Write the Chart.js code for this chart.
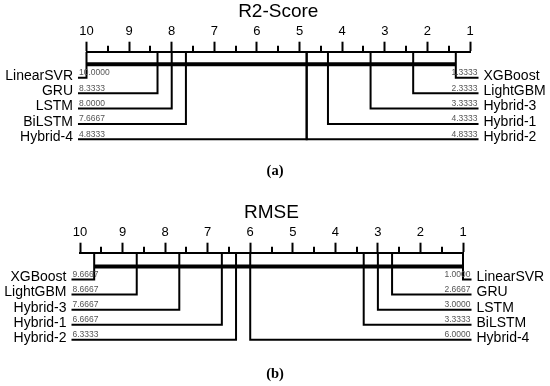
<!DOCTYPE html>
<html>
<head>
<meta charset="utf-8">
<script src="https://cdn.jsdelivr.net/npm/chart.js@4.4.0/dist/chart.umd.min.js"></script>
<style>
  html, body { margin: 0; padding: 0; background: #fff; }
  body { width: 550px; height: 386px; position: relative; overflow: hidden; }
  canvas { position: absolute; left: 0; }
  #r2 { top: 0; }
  #rmse { top: 190px; }
</style>
</head>
<body>
<canvas id="r2" width="550" height="190"></canvas>
<canvas id="rmse" width="550" height="196"></canvas>
<script>
// mean ranks, R2-Score
const r2LeftNames = ['LinearSVR', 'GRU', 'LSTM', 'BiLSTM', 'Hybrid-4'];
const r2LeftRanks = [10.0000, 8.3333, 8.0000, 7.6667, 4.8333];
const r2RightNames = ['XGBoost', 'LightGBM', 'Hybrid-3', 'Hybrid-1', 'Hybrid-2'];
const r2RightRanks = [1.3333, 2.3333, 3.3333, 4.3333, 4.8333];
const r2Clique = [10.0000, 1.3333];

// mean ranks, RMSE
const rmseLeftNames = ['XGBoost', 'LightGBM', 'Hybrid-3', 'Hybrid-1', 'Hybrid-2'];
const rmseLeftRanks = [9.6667, 8.6667, 7.6667, 6.6667, 6.3333];
const rmseRightNames = ['LinearSVR', 'GRU', 'LSTM', 'BiLSTM', 'Hybrid-4'];
const rmseRightRanks = [1.0000, 2.6667, 3.0000, 3.3333, 6.0000];
const rmseClique = [9.6667, 1.0000];

const rankMin = 1, rankMax = 10;

const FONT = 'Liberation Sans, Arial, sans-serif';
const EDGE = 0.2;      // how far the label lines stick out past the axis ends
const LIFT = 0.13;     // names sit a bit above their line

function makeCD(id, p) {
  const rowY = i => p.firstRow + i;
  const seg = pts => ({
    data: pts.map(a => ({x: a[0], y: a[1]})),
    showLine: true, borderColor: '#000', borderWidth: 2,
    pointRadius: 0, clip: false, borderJoinStyle: 'miter', borderCapStyle: 'butt'
  });
  let sets = [];
  p.leftRanks.forEach((r, i) => sets.push(seg([[rankMax + EDGE, rowY(i)], [r, rowY(i)], [r, 0]])));
  p.rightRanks.forEach((r, i) => sets.push(seg([[rankMin - EDGE, rowY(i)], [r, rowY(i)], [r, 0]])));
  let bar = seg([[p.clique[0], p.barY], [p.clique[1], p.barY]]);
  bar.borderWidth = 4;
  sets.push(bar);

  const nameAxis = (pos, names, w) => ({
    type: 'linear', position: pos, reverse: true, min: 0, max: 6,
    afterBuildTicks: s => { s.ticks = names.map((n, i) => ({value: rowY(i) - LIFT})); },
    afterFit: s => { s.width = w; },
    ticks: {
      autoSkip: false, padding: 13.5, color: '#000',
      font: {family: FONT, size: 14, lineHeight: 1},
      callback: (v, i) => names[i]
    },
    grid: {display: false, drawTicks: false},
    border: {display: false}
  });

  // minor ticks + small rank values
  const extras = {
    id: 'extras',
    afterDatasetsDraw(chart) {
      const c = chart.ctx, xs = chart.scales.x, ys = chart.scales.y;
      const top = chart.chartArea.top;
      c.save();
      c.strokeStyle = '#000';
      c.lineWidth = 2;
      for (let v = rankMin + 0.5; v < rankMax; v += 1) {
        const px = Math.round(xs.getPixelForValue(v));
        c.beginPath();
        c.moveTo(px, top);
        c.lineTo(px, top - 6);
        c.stroke();
      }
      c.fillStyle = '#555';
      c.font = '8.5px ' + FONT;
      c.textBaseline = 'alphabetic';
      c.textAlign = 'left';
      p.leftRanks.forEach((r, i) => {
        c.fillText(r.toFixed(4), xs.getPixelForValue(rankMax + EDGE) + 1, ys.getPixelForValue(rowY(i)) - 2.5);
      });
      c.textAlign = 'right';
      p.rightRanks.forEach((r, i) => {
        c.fillText(r.toFixed(4), xs.getPixelForValue(rankMin - EDGE) - 1, ys.getPixelForValue(rowY(i)) - 2.5);
      });
      c.restore();
    }
  };

  return new Chart(document.getElementById(id), {
    type: 'scatter',
    data: {datasets: sets},
    plugins: [extras],
    options: {
      responsive: false,
      animation: false,
      events: [],
      layout: {padding: 0},
      plugins: {
        legend: {display: false},
        tooltip: {enabled: false},
        title: {
          display: true, text: p.title, color: '#000', fullSize: false,
          font: {family: FONT, size: 19, weight: 'normal', lineHeight: 1},
          padding: {top: p.titleTop, bottom: 0}
        },
        subtitle: {
          display: true, text: p.caption, position: 'bottom', color: '#000', fullSize: true,
          font: {family: 'Liberation Serif, serif', size: 14.5, weight: 'bold', lineHeight: 1},
          padding: {top: p.capTop, bottom: p.capBottom}
        }
      },
      scales: {
        x: {
          type: 'linear', position: 'top', reverse: true, min: rankMin, max: rankMax,
          ticks: {stepSize: 1, padding: 3.6, color: '#000', font: {family: FONT, size: 13, lineHeight: 1}},
          grid: {drawOnChartArea: false, tickLength: 10, tickWidth: 2, tickColor: '#000'},
          border: {display: true, color: '#000', width: 2}
        },
        y: nameAxis('left', p.leftNames, p.left),
        y2: nameAxis('right', p.rightNames, p.right)
      }
    }
  });
}

makeCD('r2', {
  title: 'R2-Score', caption: '(a)',
  leftNames: r2LeftNames, leftRanks: r2LeftRanks,
  rightNames: r2RightNames, rightRanks: r2RightRanks, clique: r2Clique,
  left: 86.5, right: 80, titleTop: 2.5, capTop: 19.6, capBottom: 11.8,
  barY: 0.81, firstRow: 1.69
});

makeCD('rmse', {
  title: 'RMSE', caption: '(b)',
  leftNames: rmseLeftNames, leftRanks: rmseLeftRanks,
  rightNames: rmseRightNames, rightRanks: rmseRightRanks, clique: rmseClique,
  left: 80, right: 87, titleTop: 13.5, capTop: 23.5, capBottom: 4.7,
  barY: 0.91, firstRow: 1.77
});
</script>
</body>
</html>
